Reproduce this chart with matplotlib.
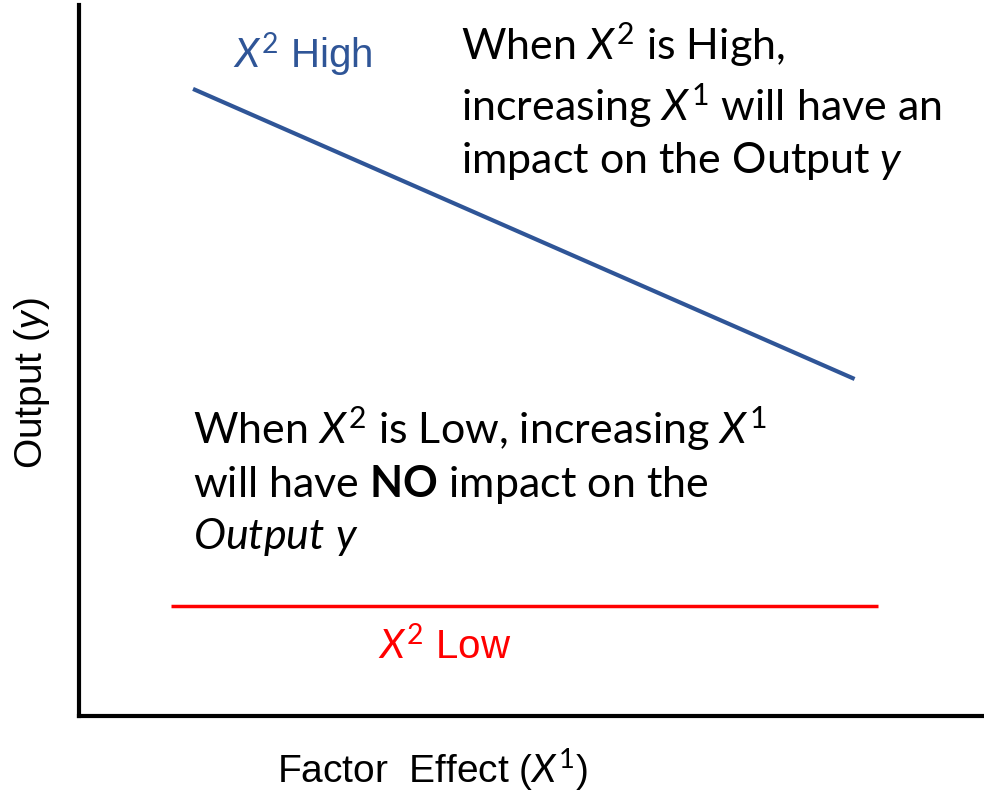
import matplotlib.pyplot as plt

plt.rcParams['mathtext.fontset'] = 'custom'
plt.rcParams['mathtext.rm'] = 'Lato'
plt.rcParams['mathtext.it'] = 'Lato:italic'
plt.rcParams['mathtext.bf'] = 'Lato:bold'

# factor effect X1 (arbitrary units) and output y
x_high = [1.26, 8.57]
y_high = [8.82, 4.74]
x_low = [1.02, 8.83]
y_low = [1.55, 1.55]

blue = '#2F5597'
red = '#FF0000'

fig = plt.figure(figsize=(9.84, 7.95), dpi=100)
ax = fig.add_axes([79 / 984, 79 / 795, 905 / 984, 711 / 795])

ax.plot(x_high, y_high, color=blue, linewidth=3, solid_capstyle='butt')
ax.plot(x_low, y_low, color=red, linewidth=2.5, solid_capstyle='butt')

ax.set_xlim(0, 10)
ax.set_ylim(0, 10)
ax.set_xticks([])
ax.set_yticks([])
for s in ['top', 'right']:
    ax.spines[s].set_visible(False)
for s in ['left', 'bottom']:
    ax.spines[s].set_linewidth(3)

ax.text(1.70, 9.30, r'$X^2$ High', color=blue, fontsize=29,
        family='Liberation Sans', va='center', ha='left')
ax.text(3.30, 0.97, r'$X^2$ Low', color=red, fontsize=29,
        family='Liberation Sans', va='center', ha='left')

ax.text(4.22, 9.78, 'When $X^2$ is High,\nincreasing $X^1$ will have an\nimpact on the Output $y$',
        fontsize=31, family='Lato', va='top', ha='left', linespacing=1.3)
ax.text(1.26, 4.38, 'When $X^2$ is Low, increasing $X^1$\nwill have $\\mathbf{NO}$ impact on the\n$\\mathit{Output\\ y}$',
        fontsize=31, family='Lato', va='top', ha='left', linespacing=1.3)

fig.text(432 / 984, 1 - 770 / 795, 'Factor  Effect ($X^1$)', fontsize=28,
         family='Liberation Sans', ha='center', va='center')
fig.text(32 / 984, 1 - 383 / 795, 'Output ($y$)', fontsize=28,
         family='Liberation Sans', ha='center', va='center', rotation=90)

fig.savefig('out.png', dpi=100)
